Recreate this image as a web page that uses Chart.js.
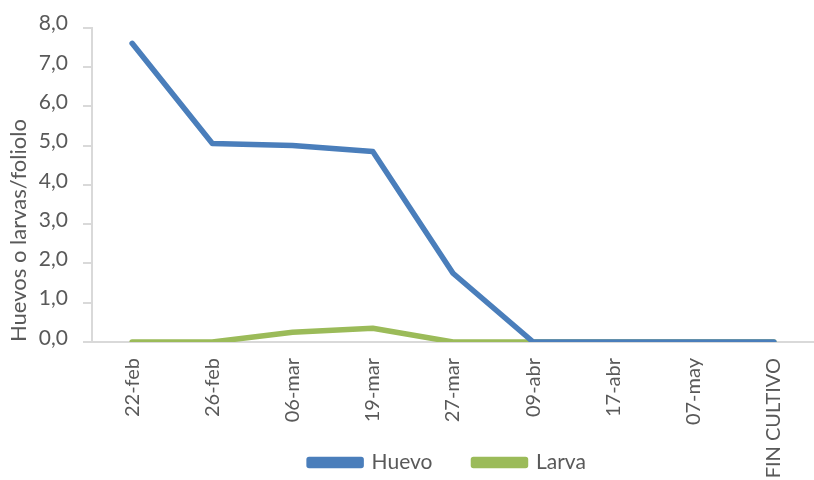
<!DOCTYPE html>
<html>
<head>
<meta charset="utf-8">
<script src="https://cdn.jsdelivr.net/npm/chart.js@4"></script>
<style>
  html, body { margin: 0; padding: 0; background: #fff; }
  #wrap { width: 814px; height: 480px; }
</style>
</head>
<body>
<div id="wrap"><canvas id="chart" width="814" height="480"></canvas></div>
<script>
// fechas de muestreo
const fechas = ['22-feb', '26-feb', '06-mar', '19-mar', '27-mar', '09-abr', '17-abr', '07-may', 'FIN CULTIVO']
// promedio por foliolo
const huevo = [7.6, 5.05, 5.0, 4.85, 1.75, 0, 0, 0, 0]
const larva = [0, 0, 0.25, 0.35, 0, 0, 0, 0, 0]

const gris = '#595959'
const linea = '#d9d9d9'
const azul = '#4a7ebb'
const verde = '#9bbb59'

Chart.defaults.font.family = 'Lato, "Open Sans", sans-serif'
Chart.defaults.font.size = 21
Chart.defaults.color = gris

// let the rotated x labels run under the legend, like the original sheet,
// and nudge the legend over to where it sits there
const ajustes = {
  id: 'ajustes',
  afterLayout(chart) {
    chart.scales.x.bottom = chart.height
    const lg = chart.legend
    lg.left += 35
    lg.right += 35
    lg.top += 3
    lg.bottom += 3
  }
}

new Chart(document.getElementById('chart'), {
  type: 'line',
  data: {
    labels: fechas,
    datasets: [
      { label: 'Huevo', data: huevo, borderColor: azul, backgroundColor: azul },
      { label: 'Larva', data: larva, borderColor: verde, backgroundColor: verde }
    ]
  },
  plugins: [ajustes],
  options: {
    responsive: false,
    animation: false,
    layout: { padding: { top: 24, left: 6, right: -5, bottom: 0 } },
    elements: {
      line: { borderWidth: 5.5, tension: 0, borderCapStyle: 'round', borderJoinStyle: 'round' },
      point: { radius: 0 }
    },
    plugins: {
      tooltip: { enabled: false },
      legend: {
        position: 'bottom',
        labels: { boxWidth: 52, boxHeight: 6, padding: 41, color: gris }
      }
    },
    scales: {
      x: {
        offset: true,
        grid: { display: false, drawTicks: false },
        border: { display: true, color: linea, width: 2 },
        ticks: { minRotation: 90, maxRotation: 90, padding: 16, color: gris, autoSkip: false, font: { size: 20 } },
        afterFit: (scale) => { scale.height = 66 }
      },
      y: {
        min: 0,
        max: 8,
        grid: { drawOnChartArea: false, drawTicks: true, tickLength: 9, color: linea, lineWidth: 2 },
        border: { display: true, color: linea, width: 2 },
        ticks: {
          stepSize: 1,
          padding: 15,
          labelOffset: -4,
          color: gris,
          callback: (v) => v.toFixed(1).replace('.', ',')
        },
        title: { display: true, text: 'Huevos o larvas/foliolo', color: gris, align: 'start', padding: 0, font: { size: 22 } },
        afterFit: (scale) => { scale.width = 86 }
      }
    }
  }
})
</script>
</body>
</html>
